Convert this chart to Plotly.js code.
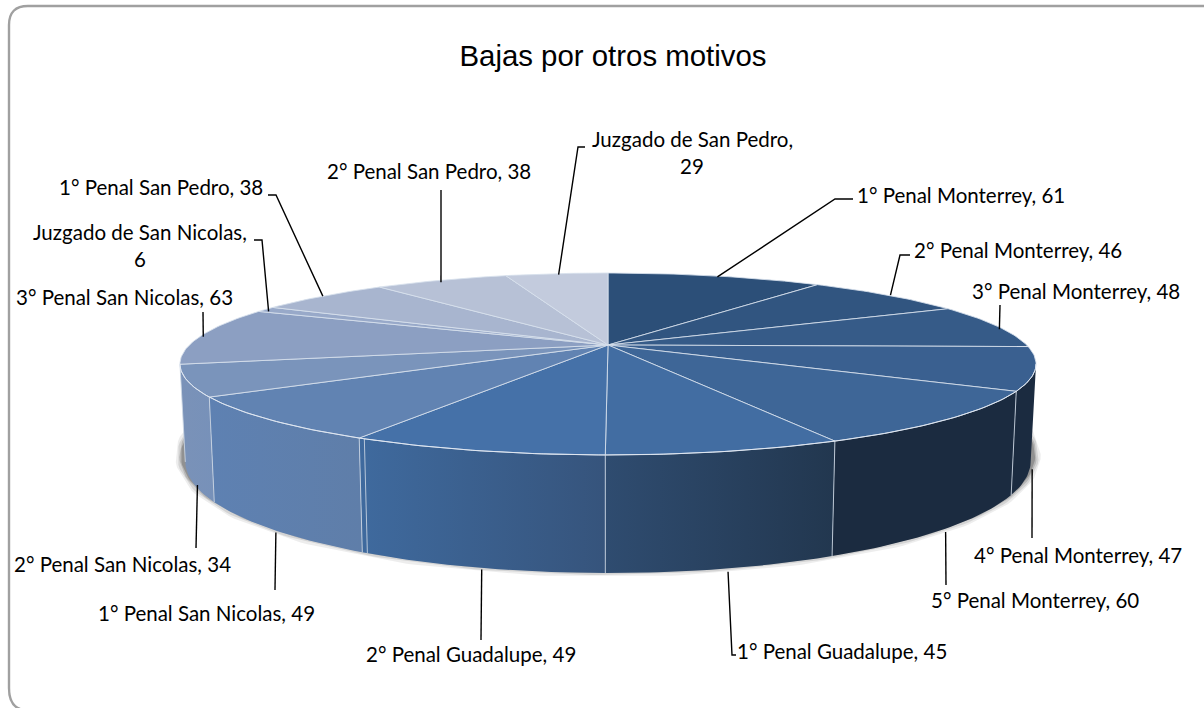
<!DOCTYPE html>
<html><head><meta charset="utf-8">
<script src="https://cdn.plot.ly/plotly-3.0.1.min.js"></script>
<style>html,body{margin:0;padding:0;background:#fff}#c{width:1204px;height:708px}</style></head>
<body><div id="c"></div>
<script>
const categories=["1° Penal Monterrey","2° Penal Monterrey","3° Penal Monterrey","4° Penal Monterrey","5° Penal Monterrey","1° Penal Guadalupe","2° Penal Guadalupe","1° Penal San Nicolas","2° Penal San Nicolas","3° Penal San Nicolas","Juzgado de San Nicolas","1° Penal San Pedro","2° Penal San Pedro","Juzgado de San Pedro"];
const values=[61,46,48,47,60,45,49,49,34,63,6,38,38,29];
const topColors=["#2c4f78","#315580","#365b88","#3a6090","#3e6697","#426da2","#4571a8","#6183b2","#7a94bb","#8c9fc2","#98a9c9","#a8b5cf","#b7c1d6","#c3cbdd"];
const wallLeft=["#1b2b40","#1b2b40","#1b2b40","#1b2b40","#1b2b40","#2f4c70","#3f6a9e","#5e81b2","#7a92b8","#7a92b8","#7a92b8","#7a92b8","#7a92b8","#7a92b8"];
const wallRight=["#1b2b40","#1b2b40","#1b2b40","#1b2b40","#1b2b40","#22374f","#36547c","#5f7ea9","#7791b9","#7791b9","#7791b9","#7791b9","#7791b9","#7791b9"];
const wrapLabel=[0,0,0,0,0,0,0,0,0,0,1,0,0,1];
const labelPos=[[961,195],[1018,250],[1076,291],[1078,555],[1035,600],[842,651],[471,654],[206,613],[122,564],[124,297],[140,232],[161,187],[429,171],[692,139]];
const leaderBends=[[[835,199],[853,199]],[[900,255],[910,255]],[[1000,305]],[[1032,538]],[[946,585]],[[732,655],[736,655]],[[481,640]],[[275,590]],[[196,548]],[[203,312]],[[262,240],[254,240]],[[276,195],[268,195]],[[441,190]],[[578,147],[585,147]]];
const anchorNudge=[[2,1],[3,0],[2,3],[2,2],[1,3],[4,3],[5,2],[3,3],[5,3],[2,1],[3,2],[0,0],[0,2],[2,1]];
const doubleSeams=[6];

const cx=608,cy=345,a=418.6,b=87,k=0.2088,h=93.4,lean=0.9875;
const total=values.reduce((p,q)=>p+q,0);
const rad=d=>d*Math.PI/180;
function rim(t){const u=Math.sin(rad(t)),v=Math.cos(rad(t)),s=1/(1+k*v);return [cx+a*u*s,cy-b*v*s];}
function foot(t){const u=Math.sin(rad(t)),v=Math.cos(rad(t)),s=1/(1+k*v);return [cx+a*u*s*lean,cy-b*v*s+h*s];}
function arc(f,t0,t1){const n=Math.max(2,Math.ceil(Math.abs(t1-t0))),o=[];for(let i=0;i<=n;i++)o.push(f(t0+(t1-t0)*i/n));return o;}
const visA=90+Math.asin(k)*180/Math.PI, visB=270-Math.asin(k)*180/Math.PI;

let cum=0;const starts=[],ends=[];values.forEach(w=>{starts.push(cum/total*360);cum+=w;ends.push(cum/total*360);});
const traces=[];
const mk=pts=>({x:pts.map(p=>p[0]),y:pts.map(p=>p[1])});

// soft shadow under the disc
const shadowRing=arc(t=>{const p=foot(t);return [p[0],p[1]-6];},0,360);
[[20,"rgba(0,0,0,0.07)"],[16,"rgba(0,0,0,0.10)"],[12,"rgba(0,0,0,0.14)"],[9,"rgba(0,0,0,0.20)"]].forEach(([w,c])=>{
  traces.push({type:"scatter",mode:"lines",...mk(shadowRing),line:{width:w,color:c},hoverinfo:"skip",showlegend:false});
});
// walls
values.forEach((w,i)=>{
  const t0=Math.max(starts[i],visA),t1=Math.min(ends[i],visB);
  if(t1<=t0)return;
  const pts=arc(rim,t0,t1).concat(arc(foot,t1,t0));pts.push(pts[0]);
  traces.push({type:"scatter",mode:"lines",...mk(pts),fill:"toself",line:{width:0,color:"rgba(0,0,0,0)"},
    fillcolor:wallLeft[i],
    fillgradient:{type:"horizontal",colorscale:[[0,wallLeft[i]],[1,wallRight[i]]]},
    name:categories[i],text:categories[i]+", "+w,hoverinfo:"text",showlegend:false});
});
// wall seams
values.forEach((w,i)=>{
  const t=ends[i];
  if(t<=visA||t>=visB)return;
  const seam=s=>traces.push({type:"scatter",mode:"lines",...mk([rim(s),foot(s)]),line:{width:1,color:"rgba(205,215,228,0.85)"},hoverinfo:"skip",showlegend:false});
  seam(t);
  if(doubleSeams.includes(i))seam(t-0.7);
});
// top face
values.forEach((w,i)=>{
  const pts=[[cx,cy]].concat(arc(rim,starts[i],ends[i]));pts.push([cx,cy]);
  traces.push({type:"scatter",mode:"lines",...mk(pts),fill:"toself",fillcolor:topColors[i],
    line:{width:1,color:"rgba(215,224,236,0.85)"},name:categories[i],text:categories[i]+", "+w,hoverinfo:"text",showlegend:false});
});
// front rim highlight
traces.push({type:"scatter",mode:"lines",...mk(arc(rim,visA,visB)),line:{width:1,color:"rgba(225,232,242,0.9)"},hoverinfo:"skip",showlegend:false});

// leader lines, anchored to each slice's middle
values.forEach((w,i)=>{
  const m=(starts[i]+ends[i])/2;
  const p=(m>visA&&m<visB)?foot(m):rim(m);
  const start=[p[0]+anchorNudge[i][0],p[1]+anchorNudge[i][1]];
  traces.push({type:"scatter",mode:"lines",...mk([start].concat(leaderBends[i])),line:{width:1.4,color:"#000"},hoverinfo:"skip",showlegend:false});
});

const ann=[];
values.forEach((w,i)=>{
  const lines=wrapLabel[i]?[categories[i]+",",String(w)]:[categories[i]+", "+w];
  lines.forEach((t,j)=>ann.push({x:labelPos[i][0],y:labelPos[i][1]+j*27,xref:"x",yref:"y",text:t,showarrow:false,xanchor:"center",yanchor:"middle",
    font:{family:"Lato, sans-serif",size:20.5,color:"#000"}}));
});
const layout={width:1204,height:708,margin:{l:0,r:0,t:0,b:0},paper_bgcolor:"#fff",plot_bgcolor:"#fff",showlegend:false,
  title:{text:"Bajas por otros motivos",x:613/1204,xanchor:"center",y:1-56/708,yanchor:"middle",font:{family:"Liberation Sans, Arial, sans-serif",size:29.4,color:"#000"}},
  xaxis:{range:[0,1204],visible:false,fixedrange:true},
  yaxis:{range:[708,0],visible:false,fixedrange:true},
  annotations:ann,
  shapes:[{type:"path",xref:"x",yref:"y",layer:"below",path:"M20 709 Q9 705 9 688 V25 Q9 6 28 6 H1204",line:{color:"#a0a0a0",width:2.4},fillcolor:"rgba(0,0,0,0)"}]
};
Plotly.newPlot("c",traces,layout,{displayModeBar:false});
</script></body></html>
